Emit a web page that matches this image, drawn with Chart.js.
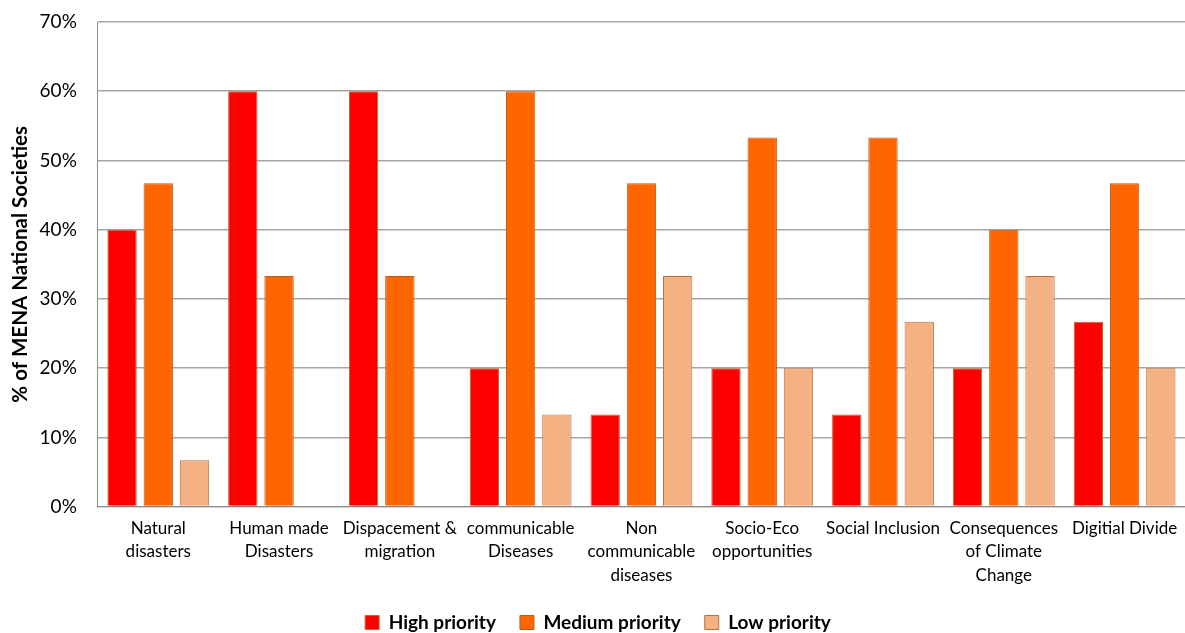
<!DOCTYPE html>
<html>
<head>
<meta charset="utf-8">
<script src="https://cdn.jsdelivr.net/npm/chart.js@4.4.1/dist/chart.umd.min.js"></script>
<style>
  html, body { margin: 0; padding: 0; background: #fff; }
  #wrap { width: 1185px; height: 633px; }
</style>
</head>
<body>
<div id="wrap"><canvas id="chart"></canvas></div>
<script>
// categories (multi-line labels as in the original)
const categories = [
  ['Natural', 'disasters'],
  ['Human made', 'Disasters'],
  ['Dispacement &', 'migration'],
  ['communicable', 'Diseases'],
  ['Non', 'communicable', 'diseases'],
  ['Socio-Eco', 'opportunities'],
  ['Social Inclusion'],
  ['Consequences', 'of Climate', 'Change'],
  ['Digitial Divide']
];

// % of MENA National Societies per priority level
const highPriority   = [40, 60, 60, 20, 13.3, 20, 13.3, 20, 26.7];
const mediumPriority = [46.7, 33.3, 33.3, 60, 46.7, 53.3, 53.3, 40, 46.7];
const lowPriority    = [6.7, 0, 0, 13.3, 33.3, 20, 26.7, 33.3, 20];

const fontFamily = "Lato, 'Open Sans', 'Liberation Sans', sans-serif";

const ctx = document.getElementById('chart').getContext('2d');
new Chart(ctx, {
  type: 'bar',
  data: {
    labels: categories,
    datasets: [
      {
        label: 'High priority',
        data: highPriority,
        backgroundColor: '#FF0000',
        borderColor: '#C0642C',
        borderWidth: 1
      },
      {
        label: 'Medium priority',
        data: mediumPriority,
        backgroundColor: '#FF6600',
        borderColor: '#B85A22',
        borderWidth: 1
      },
      {
        label: 'Low priority',
        data: lowPriority,
        backgroundColor: '#F4B183',
        borderColor: '#B8733E',
        borderWidth: 1
      }
    ]
  },
  options: {
    responsive: true,
    maintainAspectRatio: false,
    animation: false,
    categoryPercentage: 0.9,
    barPercentage: 0.81,
    layout: { padding: { left: 8, right: -3, top: 0, bottom: -9 } },
    plugins: {
      legend: {
        position: 'bottom',
        labels: {
          boxWidth: 14,
          boxHeight: 14,
          padding: 24,
          color: '#000',
          font: { family: fontFamily, size: 19, weight: 'bold' }
        }
      },
      tooltip: { enabled: false }
    },
    scales: {
      x: {
        grid: { display: false, drawTicks: false },
        border: { color: '#8c8c8c' },
        // pull the plot down a little closer to the legend, let it run to the right edge
        afterFit: scale => { scale.height -= 8; scale.paddingRight = 0; },
        ticks: {
          color: '#000',
          padding: 10,
          maxRotation: 0,
          autoSkip: false,
          font: { family: fontFamily, size: 17, lineHeight: 1.38 }
        }
      },
      y: {
        min: 0,
        max: 70,
        grid: { color: '#a6a6a6', drawTicks: false, lineWidth: 1.5 },
        border: { color: '#8c8c8c' },
        afterFit: scale => { scale.paddingTop = 22; },
        ticks: {
          stepSize: 10,
          color: '#000',
          padding: 21,
          font: { family: fontFamily, size: 19 },
          callback: v => v + '%'
        },
        title: {
          display: true,
          text: '% of MENA National Societies',
          color: '#000',
          padding: { top: 0, bottom: -14 },
          font: { family: fontFamily, size: 20.5, weight: 'bold' }
        }
      }
    }
  }
});
</script>
</body>
</html>
